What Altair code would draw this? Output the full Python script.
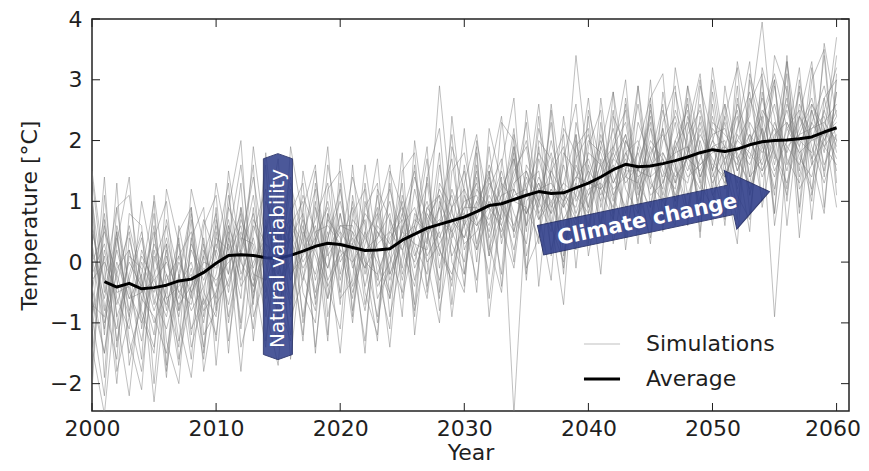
import altair as alt
import pandas as pd

# ---------------- data ----------------
sim_years = list(range(2000, 2061))
avg_years = list(range(2001, 2061))
x_ticks = [2000, 2010, 2020, 2030, 2040, 2050, 2060]
y_ticks = [-2, -1, 0, 1, 2, 3, 4]

average = [-0.32, -0.41, -0.35, -0.44, -0.42, -0.38, -0.31, -0.28, -0.17, -0.02,
           0.11, 0.12, 0.11, 0.07, 0.06, 0.11, 0.18, 0.26, 0.31, 0.29,
           0.24, 0.19, 0.20, 0.22, 0.36, 0.46, 0.56, 0.62, 0.68, 0.74,
           0.83, 0.93, 0.96, 1.03, 1.10, 1.16, 1.13, 1.14, 1.22, 1.30,
           1.40, 1.52, 1.61, 1.57, 1.58, 1.62, 1.67, 1.73, 1.80, 1.85,
           1.82, 1.86, 1.93, 1.98, 2.00, 2.01, 2.03, 2.06, 2.14, 2.21]

sim01 = [-0.2,
         0.3, -0.6, -1.1, 0.2, -0.4, -0.9, 0.1, 0.5, -0.7, -0.2,
         0.9, 0.4, -0.3, 0.6, -0.8, 0.2, 1.1, 0.5, -0.1, 0.8,
         -0.4, 0.3, 0.9, -0.2, 0.5, 1.4, 0.7, 0.1, 1.2, 0.6,
         1.5, 0.4, 1.1, 1.9, 0.8, 1.3, 0.6, 1.8, 1.5, 0.9,
         2.1, 1.4, 0.9, 2.3, 1.7, 1.2, 2.5, 1.9, 1.3, 2.4,
         1.6, 2.2, 2.8, 1.5, 2.0, 2.7, 1.4, 2.3, 2.9, 2.0]
sim02 = [0.7,
         -1.0, -0.2, 0.5, -0.8, -1.4, 0.1, -0.6, 0.3, -0.2, 0.6,
         -0.5, 0.7, 0.2, -0.9, 0.5, -0.3, 0.4, 1.2, -0.6, 0.3,
         0.9, -0.7, 0.4, 0.8, -0.3, 0.6, 1.3, -0.1, 0.9, 1.5,
         0.3, 1.2, 1.7, 0.5, 1.4, 0.9, 2.0, 1.1, 0.6, 1.6,
         1.0, 1.9, 2.3, 1.1, 1.6, 2.2, 1.0, 1.8, 2.6, 1.5,
         2.3, 1.2, 1.9, 2.7, 1.8, 1.1, 2.6, 2.1, 1.5, 2.8]
sim03 = [-1.4,
         -2.5, -0.4, 0.6, -0.3, -1.0, -0.5, 0.4, -1.2, 0.2, -0.4,
         0.5, -1.1, 0.7, 0.3, -0.4, 0.9, -0.2, -0.8, 0.8, 0.2,
         -0.6, 1.0, 0.1, -0.5, 1.1, 0.3, -0.2, 1.6, 0.4, 0.9,
         1.3, 0.1, 0.8, 1.5, 1.9, 0.7, 1.2, 0.4, 1.7, 2.1,
         1.2, 0.7, 2.0, 1.5, 2.4, 1.1, 1.9, 2.3, 1.4, 2.0,
         2.6, 1.7, 1.3, 2.4, 3.1, 2.2, 1.8, 1.2, 2.5, 3.2]
sim04 = [-0.5,
         0.8, -0.9, -0.3, 0.4, -0.7, 0.2, -1.3, -0.4, 0.7, 0.1,
         -0.7, 0.3, 1.4, 0.1, -0.2, 0.6, -0.9, 0.4, 0.9, -0.3,
         0.5, 0.1, -0.9, 0.7, 0.2, -0.4, 0.9, 1.1, 0.3, -0.2,
         1.0, 1.4, 0.6, -0.1, 1.6, 1.2, 0.8, 2.4, 1.0, 1.5,
         0.6, 1.7, 2.1, 1.3, 0.9, 2.0, 2.4, 1.6, 1.2, 2.2,
         1.9, 2.5, 1.4, 1.7, 2.9, 1.6, 2.2, 2.7, 1.9, 1.6]
sim05 = [1.0,
         -0.5, 0.5, -0.9, -1.8, 0.0, 0.6, -0.8, -0.1, -1.0, 0.4,
         0.2, 0.8, -0.6, 0.5, 1.2, -0.3, 0.6, -0.5, 0.4, 1.0,
         0.1, -0.8, 0.6, 0.3, 1.0, -0.1, 0.4, 0.9, 1.7, 0.2,
         0.8, 1.6, 1.0, 0.2, 1.2, 1.8, 1.4, 0.7, 1.1, 2.0,
         1.8, 1.1, 1.5, 2.6, 1.2, 1.7, 1.0, 2.1, 2.5, 1.6,
         1.4, 2.0, 2.4, 3.95, 1.8, 1.3, 2.1, 2.6, 2.0, 2.4]
sim06 = [-0.9,
         0.1, -1.3, -0.2, 0.5, -0.6, -1.1, -0.3, 0.8, -0.5, -0.9,
         0.6, 0.0, -0.4, 1.0, 0.4, -0.6, 0.2, 0.7, 1.3, -0.2,
         0.7, 0.4, 0.0, -0.6, 0.6, 0.9, 0.1, 0.5, -0.4, 1.1,
         0.6, 0.9, 1.5, 0.8, 0.3, 1.7, 0.9, 1.3, 2.1, 0.8,
         1.5, 2.2, 1.2, 0.8, 1.9, 1.4, 2.3, 1.1, 1.7, 2.1,
         2.2, 1.5, 2.1, 1.4, 1.9, 2.5, 1.7, 1.4, 2.3, 2.6]
sim07 = [0.3,
         -0.8, 0.2, -0.6, -0.2, -2.3, -0.3, 0.1, -0.6, 0.4, -0.8,
         1.1, -0.2, 0.4, -0.5, 0.7, 0.2, -1.2, 0.9, 0.1, 0.5,
         0.2, 0.8, 0.5, 0.1, -0.5, 0.8, 0.5, -0.3, 0.6, 1.0,
         1.1, 0.5, 1.3, 1.0, 0.9, 0.4, 1.5, 1.9, 0.7, 1.2,
         1.3, 0.9, 1.8, 2.0, 1.4, 2.5, 1.6, 0.9, 2.0, 1.3,
         1.7, 2.4, 1.1, 2.2, 1.5, 2.0, 2.8, 1.9, 1.3, 2.0]
sim08 = [-1.8,
         0.6, -0.3, -1.5, -0.7, 0.3, -0.2, -0.9, 0.2, -0.3, 0.3,
         -0.2, 0.9, -0.1, 0.6, -0.5, 0.4, 0.8, -0.3, 0.5, -0.5,
         1.0, -0.2, 0.7, 1.2, 0.4, 0.0, 0.9, 0.6, 1.1, 0.3,
         0.5, 1.1, 0.7, 1.4, 2.0, 1.0, 0.5, 1.6, 0.8, 1.4,
         2.0, 1.3, 1.7, 1.0, 2.2, 1.5, 1.2, 2.4, 1.8, 1.1,
         1.5, 2.6, 2.0, 1.6, 2.3, 1.8, 2.4, 1.7, 2.2, 1.7]
sim09 = [0.5,
         -0.3, 0.9, -0.5, -1.0, -0.2, 0.3, -1.6, -0.5, 0.1, -0.6,
         0.3, -0.6, 1.9, 0.3, 0.0, -0.7, 0.5, 0.1, -0.6, 0.8,
         -0.1, 0.5, -0.3, 0.5, 0.9, 0.2, -0.6, 1.0, 0.5, 0.0,
         1.4, 0.2, 1.0, 0.6, 1.3, 1.5, 0.2, 1.0, 1.4, 1.7,
         1.1, 1.6, 0.8, 1.9, 1.3, 1.0, 1.8, 2.6, 1.4, 1.9,
         2.0, 1.3, 2.7, 2.1, 1.2, 2.3, 1.9, 2.5, 1.6, 2.1]
sim10 = [-0.6,
         -1.5, -0.1, 0.2, -0.6, -0.9, -1.5, -0.2, -0.8, -0.4, 0.2,
         -0.4, 0.5, -0.2, -0.3, 0.9, 0.5, -0.1, 0.3, 1.0, 0.0,
         0.4, -0.1, 1.1, -0.2, 0.3, 0.5, 1.0, 0.2, -0.2, 0.7,
         0.2, 0.8, 1.2, 1.7, 0.6, 1.1, 1.8, 0.9, 1.3, 0.6,
         1.7, 1.0, 2.0, 1.5, 2.5, 1.3, 2.0, 1.5, 2.1, 1.7,
         1.3, 2.1, 1.7, 2.5, 2.2, 1.5, 2.4, 2.0, 2.7, 1.8]
sim11 = [-1.1,
         0.2, -0.7, 0.0, -0.4, 0.5, -0.8, 0.3, -1.1, -0.6, -1.2,
         0.4, -0.3, 0.6, 0.0, -0.9, 0.7, 0.3, -0.2, 0.7, 0.4,
         -0.5, 0.2, 0.4, 1.0, -0.1, 1.2, 0.3, 2.9, 0.8, 0.4,
         0.9, 1.5, 0.4, 1.2, 0.8, 1.4, 1.0, 0.3, 1.6, 1.1,
         1.4, 1.8, 1.3, 1.6, 0.7, 1.8, 1.3, 1.9, 1.0, 2.3,
         2.1, 1.8, 1.2, 2.0, 2.6, 1.7, 1.3, 2.2, 2.4, 1.5]
sim12 = [0.2,
         -0.6, 0.4, -0.8, 0.1, -0.3, 0.0, -0.5, -0.2, -1.4, 0.5,
         -0.9, 0.2, 0.8, -0.3, 0.2, 1.3, 0.4, -0.6, 0.2, 0.6,
         0.6, 0.0, -0.2, 0.4, 0.7, -0.3, 0.8, 0.4, 0.9, 1.2,
         0.7, 1.3, 0.9, 0.5, 1.5, 0.8, 1.2, 0.9, 3.4, 1.5,
         1.2, 1.5, 2.1, 1.2, 1.8, 2.1, 1.5, 1.3, 2.2, 1.4,
         1.9, 1.6, 2.3, 1.9, 1.4, 2.2, 2.5, 1.6, 2.0, 2.5]
sim13 = [-0.3,
         0.0, -0.5, -0.4, -1.3, 0.1, -0.6, -0.4, 0.0, -0.8, -0.5,
         0.1, 0.6, -0.5, 0.2, -0.3, 0.0, 0.7, 0.2, -0.4, 0.1,
         0.3, 0.7, -0.4, 0.0, 0.5, 0.3, 0.2, 0.9, 0.1, 0.6,
         1.0, 0.6, 1.4, -2.5, 1.0, 1.3, 0.8, 1.2, 0.7, 1.1,
         1.6, 1.2, 1.4, 1.8, 1.1, 1.3, 1.9, 1.4, 1.6, 1.9,
         1.4, 1.9, 1.6, 2.2, -0.9, 1.9, 1.6, 2.3, 1.9, 2.2]
sim14 = [1.4,
         -0.4, -1.1, 0.1, -0.1, -0.8, -0.2, -0.7, -0.4, 0.0, -0.1,
         0.7, -0.4, 0.0, 0.4, 0.6, -0.2, 0.1, 0.6, -0.3, 0.2,
         0.0, 0.4, 0.8, -0.3, 0.4, 0.6, 0.0, 0.3, 0.7, 0.8,
         0.6, 1.0, 0.5, 1.1, 1.2, 0.7, 1.0, 1.3, 1.1, 0.8,
         1.9, 1.3, 1.8, 1.4, 1.6, 1.8, 1.4, 1.7, 1.5, 2.0,
         1.7, 2.0, 1.8, 1.5, 2.1, 2.3, 1.8, 2.0, 2.1, 2.3]
sim15 = [-0.7,
         -0.9, 0.0, -0.6, -0.5, -0.3, -0.7, 0.0, -0.5, -0.1, -0.3,
         0.0, 0.2, -0.4, 0.3, 0.1, 0.4, -0.3, 0.5, 0.6, 0.3,
         0.3, -0.1, 0.3, 0.5, 0.2, 0.7, 0.5, 0.7, 0.5, 0.9,
         0.9, 0.7, 1.1, 1.2, 0.8, 1.2, 1.3, 1.0, 1.4, 1.3,
         1.2, 1.7, 1.5, 1.5, 1.4, 1.6, 1.8, 1.9, 1.6, 1.8,
         1.9, 1.7, 2.1, 1.8, 2.2, 1.9, 2.1, 2.2, 2.3, 2.0]
sim16 = [0.0,
         0.5, -0.2, -0.9, 0.0, -0.5, 0.4, -0.5, -0.7, 0.3, -0.7,
         -0.3, 0.4, 0.3, -0.6, 0.4, 0.7, 0.0, 0.4, -0.1, 0.6,
         0.5, -0.4, 0.5, 0.2, 0.8, 0.1, 0.6, 1.2, 0.7, 0.4,
         1.2, 0.9, 0.6, 1.3, 1.5, 1.0, 1.5, 1.1, 0.9, 1.8,
         1.6, 1.9, 1.4, 1.3, 2.0, 1.7, 1.1, 1.8, 2.3, 1.5,
         2.4, 1.5, 2.0, 2.4, 1.6, 2.6, 2.0, 1.8, 2.5, 1.9]
sim17 = [1.2,
         -1.9, 0.9, 1.1, -0.4, -1.2, 0.7, -0.2, -1.6, 0.6, 1.1,
         -1.0, 0.2, 1.6, -1.3, 0.4, 1.4, -0.5, -1.0, 1.2, 1.5,
         -0.9, 1.3, -0.2, -1.1, 1.5, 1.8, -0.4, 0.6, 2.1, -0.2,
         1.6, 0.1, 2.3, 2.0, -0.1, 0.4, 2.6, 1.0, 0.2, 2.4,
         0.6, 2.8, 1.5, 0.5, 2.7, 3.1, 0.9, 1.8, 3.0, 1.1,
         0.8, 3.3, 2.2, 1.0, 3.4, 2.8, 0.9, 3.0, 3.5, 1.3]
sim18 = [-1.6,
         0.7, -1.8, -0.9, 1.0, -0.1, -1.9, 0.5, 0.9, -1.5, 0.2,
         1.3, -1.4, -0.6, 1.8, 0.0, -1.2, 1.5, 0.4, -1.3, 1.7,
         0.3, -1.5, 1.2, 0.7, -0.9, 2.0, 0.5, -0.6, 1.9, 1.2,
         -0.5, 2.2, 1.3, 0.0, 2.5, 0.8, -0.3, 2.2, 1.8, 0.4,
         2.7, 1.1, 0.5, 2.9, 1.4, 0.6, 3.2, 2.0, 0.8, 3.0,
         1.6, 0.7, 3.1, 2.3, 0.8, 3.3, 1.9, 1.0, 3.6, 2.4]
sim19 = [0.9,
         -1.2, 1.3, -1.7, -0.6, 0.8, -1.3, -2.0, 0.4, -0.9, 0.9,
         -1.5, 0.9, -0.7, 1.6, -1.1, 0.6, 1.0, -1.5, 0.8, -0.7,
         1.6, -0.5, -1.2, 1.3, -0.2, 0.6, 1.9, -0.8, 0.4, 2.2,
         0.2, 1.5, -0.4, 1.9, 0.5, 2.4, 0.1, 1.7, 2.6, 0.3,
         2.3, 0.7, 2.6, 1.2, 0.4, 2.8, 1.6, 0.7, 2.9, 2.1,
         0.6, 2.7, 1.4, 3.0, 0.8, 2.9, 1.5, 3.2, 0.9, 3.0]
sim20 = [-0.4,
         -1.5, 0.3, 1.4, -1.1, 0.2, -0.6, -1.4, 1.2, 0.3, -1.3,
         0.9, 2.0, -0.9, -0.2, 1.1, -1.6, 0.3, 1.5, -0.4, -1.1,
         1.1, 0.0, -1.3, 1.5, 0.9, -0.7, 1.4, 2.2, 0.0, -0.5,
         2.0, 0.9, -0.2, 2.1, 1.2, 0.3, 2.5, 0.1, 1.3, 2.7,
         0.9, 1.8, 3.0, 0.8, 1.7, 2.6, 0.7, 2.2, 3.1, 1.2,
         2.4, 3.2, 1.1, 1.9, 3.0, 0.6, 2.4, 3.3, 1.4, 2.8]
sim21 = [0.6,
         -0.7, -1.6, 0.8, 0.6, -2.0, 0.3, -0.8, 0.7, -1.8, -0.5,
         0.6, -1.0, 0.9, -0.8, -1.7, 0.8, 1.3, -0.7, 1.6, 0.5,
         -1.0, 0.9, 1.3, -0.9, 0.1, 1.6, -0.5, 1.3, 0.9, -0.4,
         1.8, -0.6, 0.9, 2.2, -0.2, 1.9, 0.6, 0.0, 2.3, 1.4,
         -0.2, 2.4, 1.9, 0.3, 2.6, 1.0, 0.6, 2.9, 1.3, 0.9,
         2.6, 1.1, 0.7, 2.8, 1.7, 3.1, 0.4, 2.5, 1.8, 3.4]
sim22 = [-2.1,
         1.1, -0.9, -2.2, -0.2, 1.0, -1.7, 0.6, -0.5, -1.6, 0.7,
         -0.2, 1.3, -1.3, 0.5, 1.7, -0.9, -0.3, 1.0, -1.2, 1.3,
         -0.8, 0.5, 1.7, -0.6, 0.6, -0.9, 1.4, 0.2, -0.3, 1.6,
         0.0, 1.9, 0.3, 1.2, 2.3, -0.4, 1.6, 2.1, -0.1, 1.9,
         2.5, 0.3, 1.5, 2.9, 0.9, 2.2, 1.3, 2.7, 0.5, 2.6,
         1.2, 2.9, 0.8, 2.3, 3.0, 1.0, 2.9, 0.7, 2.7, 3.0]
sim23 = [0.1,
         -1.1, 0.5, -1.3, -2.1, 0.4, 1.0, -1.0, -1.9, 0.1, 0.8,
         -1.3, 0.1, 1.1, -0.4, -1.4, 1.9, 0.7, -1.4, 0.4, 1.2,
         0.0, -1.3, 0.8, 1.6, -0.6, 0.4, 1.7, -0.5, 2.4, 0.6,
         -0.3, 1.4, 2.4, 0.4, 1.1, 2.6, 0.7, -0.7, 2.0, 0.9,
         1.9, 2.8, 0.4, 1.6, 2.3, 0.5, 2.8, 1.8, 0.9, 3.2,
         1.8, 0.9, 2.6, 3.1, 0.6, 2.0, 3.2, 1.1, 2.1, 3.7]
sim24 = [-1.0,
         1.4, -1.4, 0.2, -0.9, -1.5, 1.2, 0.3, -1.4, -0.6, 1.3,
         0.2, -1.8, 0.5, 1.2, -0.6, -1.3, 0.9, 1.6, -0.9, 0.3,
         1.4, 0.6, -1.0, 0.2, 1.3, -0.8, 0.3, 1.8, -0.7, 1.3,
         2.1, 0.3, -0.5, 1.7, 0.6, 2.2, 1.4, -0.1, 1.9, 2.2,
         0.4, 2.0, 2.5, 0.9, 3.0, 0.8, 1.5, 2.9, 1.9, 0.6,
         2.9, 1.7, 0.5, 3.2, 2.4, 1.2, 3.0, 1.7, 0.8, 3.1]
sim25 = [1.5,
         -0.1, -2.0, 0.4, -0.5, 0.6, -1.8, -0.2, 0.9, -1.2, -0.8,
         1.5, 0.1, -1.1, 0.7, -0.2, 1.2, -1.0, 0.3, 1.9, -0.6,
         -0.3, 1.6, 0.2, -1.4, 0.8, 1.5, 0.0, -1.0, 1.5, 1.8,
         0.7, -0.2, 1.6, 2.7, 0.1, 1.0, 2.3, 0.6, 0.3, 2.5,
         1.6, 0.8, 2.7, 1.4, 0.3, 2.3, 2.9, 0.6, 2.4, 1.5,
         0.7, 2.2, 3.3, 0.9, 2.0, 3.3, 1.2, 1.6, 3.4, 1.1]
sim26 = [-0.9,
         -2.2, 0.6, -0.3, -1.6, 1.1, -0.4, -1.7, 0.4, 0.9, -1.7,
         0.4, 1.6, -0.2, -1.4, 0.9, 0.3, -1.3, 1.3, 0.2, -1.5,
         0.8, 1.2, -0.6, -0.1, 1.8, -1.2, 0.7, 1.1, -0.9, 0.8,
         1.9, -0.9, 0.9, 1.8, -0.3, 2.0, 1.7, -0.2, 2.1, 0.1,
         1.3, 2.5, 0.2, 1.9, 2.7, 0.7, 2.0, 2.5, 0.4, 2.8,
         1.4, 0.3, 3.0, 2.1, 1.1, 3.4, 0.8, 2.6, 2.2, 0.9]

simulations = [sim01, sim02, sim03, sim04, sim05, sim06, sim07, sim08,
               sim09, sim10, sim11, sim12, sim13, sim14, sim15, sim16,
               sim17, sim18, sim19, sim20, sim21, sim22, sim23, sim24,
               sim25, sim26]

series_names = ["Simulations", "Average"]
nv_label = "Natural variability"
cc_label = "Climate change"

# ---------------- tables ----------------
rows = []
for i, s in enumerate(simulations):
    for yr, v in zip(sim_years, s):
        rows.append({"year": yr, "temp": v, "run": f"run{i:02d}", "kind": "Simulations"})
sim_df = pd.DataFrame(rows)
avg_df = pd.DataFrame({"year": avg_years, "temp": average, "kind": "Average"})

W, H = 757, 392
FONT = "DejaVu Sans"
TXT = "#1f1f1f"

xscale = alt.Scale(domain=[2000, 2061], nice=False, zero=False)
yscale = alt.Scale(domain=[-2.45, 4], nice=False, zero=False)

X = alt.X("year:Q", scale=xscale,
          axis=alt.Axis(values=x_ticks, format="d", title="Year", labelFlush=False,
                        labelPadding=7, titlePadding=3,
                        labelOffset={"condition": {"test": "datum.value == 2060", "value": -4},
                                     "value": 0}))
Y = alt.Y("temp:Q", scale=yscale,
          axis=alt.Axis(values=y_ticks, format="d", title="Temperature [°C]", labelFlush=False,
                        labelPadding=10, titlePadding=8))

leg = alt.Legend(title=None, orient="none", legendX=490, legendY=306,
                 symbolType="stroke", symbolSize=1300, labelFontSize=22,
                 labelFont=FONT, labelColor=TXT, labelOffset=24,
                 rowPadding=4, padding=0)
color = alt.Color("kind:N", scale=alt.Scale(domain=series_names, range=["#7a7a7a", "#000000"]), legend=leg)
width_enc = alt.StrokeWidth("kind:N", scale=alt.Scale(domain=series_names, range=[1.0, 3.0]), legend=leg)
opac = alt.Opacity("kind:N", scale=alt.Scale(domain=series_names, range=[0.47, 1.0]), legend=leg)

sims = alt.Chart(sim_df).mark_line(clip=True).encode(
    x=X, y=Y, detail="run:N", color=color, strokeWidth=width_enc, opacity=opac)
avg = alt.Chart(avg_df).mark_line(clip=True, strokeJoin="round").encode(
    x=X, y=Y, color=color, strokeWidth=width_enc, opacity=opac)

# annotation arrows (placed by data coordinates)
nv_df = pd.DataFrame({"year": [2014.98], "temp": [0.09], "label": [nv_label]})
cc_df = pd.DataFrame({"year": [2045.37], "temp": [0.76], "label": [cc_label]})
nv_txt_df = pd.DataFrame({"year": [2014.98], "temp": [0.06], "label": [nv_label]})
cc_txt_df = pd.DataFrame({"year": [2044.75], "temp": [0.69], "label": [cc_label]})

NV_PATH = "M -0.141 -0.95 L 0 -1 L 0.141 -0.95 L 0.141 0.95 L 0 1 L -0.141 0.95 Z"
CC_PATH = ("M -1 -0.128 L 0.66 -0.128 L 0.66 -0.256 L 1 0 L 0.66 0.256 "
           "L 0.66 0.128 L -1 0.128 Z")
BLUE = "#2c3b88"

nv_box = alt.Chart(nv_df).mark_point(
    shape=NV_PATH, filled=True, fill=BLUE, opacity=0.85, stroke="#1b2560",
    strokeWidth=1, size=206 * 206, clip=False).encode(x="year:Q", y="temp:Q")
cc_box = alt.Chart(cc_df).mark_point(
    shape=CC_PATH, filled=True, fill=BLUE, opacity=0.88, stroke="#1b2560",
    strokeWidth=1, size=234 * 234, angle=348, clip=False).encode(x="year:Q", y="temp:Q")
nv_text = alt.Chart(nv_txt_df).mark_text(
    angle=270, fontSize=20, font=FONT, color="white", align="center",
    baseline="middle").encode(x="year:Q", y="temp:Q", text="label:N")
cc_text = alt.Chart(cc_txt_df).mark_text(
    angle=348, fontSize=21, font=FONT, fontWeight="bold", color="white",
    align="center", baseline="middle").encode(x="year:Q", y="temp:Q", text="label:N")

# inward ticks on all four sides
xt = pd.DataFrame({"year": x_ticks})
yt = pd.DataFrame({"temp": y_ticks})
TK = 8
tick_b = alt.Chart(xt).mark_rule(color=TXT, strokeWidth=1).encode(
    x="year:Q", y=alt.value(H), y2=alt.value(H - TK))
tick_t = alt.Chart(xt).mark_rule(color=TXT, strokeWidth=1).encode(
    x="year:Q", y=alt.value(0), y2=alt.value(TK))
tick_l = alt.Chart(yt).mark_rule(color=TXT, strokeWidth=1).encode(
    y="temp:Q", x=alt.value(0), x2=alt.value(TK))
tick_r = alt.Chart(yt).mark_rule(color=TXT, strokeWidth=1).encode(
    y="temp:Q", x=alt.value(W), x2=alt.value(W - TK))

chart = alt.layer(
    sims, avg, nv_box, nv_text, cc_box, cc_text, tick_b, tick_t, tick_l, tick_r
).properties(
    width=W, height=H,
    autosize=alt.AutoSizeParams(type="none"),
    padding={"left": 84, "top": 11, "right": 12, "bottom": 52},
).configure_view(
    stroke="#222222", strokeWidth=1.5
).configure_axis(
    grid=False, domain=False, ticks=False,
    labelFont=FONT, titleFont=FONT, labelFontSize=22, titleFontSize=22,
    titleFontWeight="normal", labelColor=TXT, titleColor=TXT,
)

chart.save("out.html", embed_options={"renderer": "svg", "actions": False})
